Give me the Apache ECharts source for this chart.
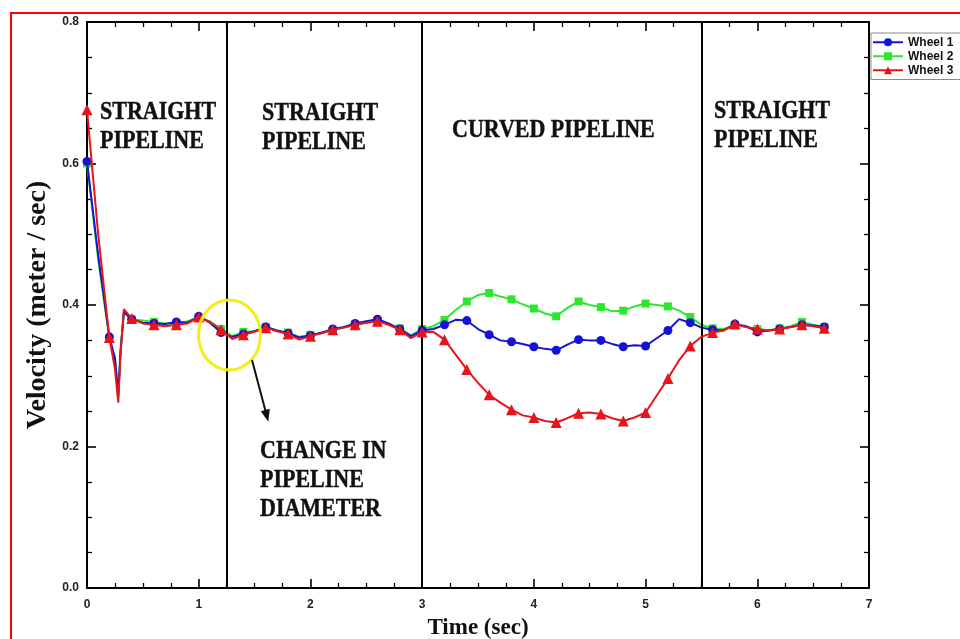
<!DOCTYPE html>
<html>
<head>
<meta charset="utf-8">
<script src="https://cdn.jsdelivr.net/npm/echarts/dist/echarts.min.js"></script>
<style>
html,body{margin:0;padding:0;background:#fff;}
#chart{width:960px;height:639px;}
</style>
</head>
<body>
<div id="chart"></div>
<script>
// ---- data ----
const time = [0, 0.1, 0.2, 0.25, 0.28, 0.3, 0.33,
  0.4, 0.5, 0.6, 0.7, 0.8, 0.9, 1.0, 1.1, 1.2, 1.3, 1.4, 1.5, 1.6, 1.7, 1.8, 1.9,
  2.0, 2.1, 2.2, 2.3, 2.4, 2.5, 2.6, 2.7, 2.8, 2.9, 3.0, 3.1, 3.2, 3.3, 3.4, 3.5,
  3.6, 3.7, 3.8, 3.9, 4.0, 4.1, 4.2, 4.3, 4.4, 4.5, 4.6, 4.7, 4.8, 4.9, 5.0, 5.1,
  5.2, 5.3, 5.4, 5.5, 5.6, 5.7, 5.8, 5.9, 6.0, 6.1, 6.2, 6.3, 6.4, 6.5, 6.6];

const wheel1 = [0.603, 0.47, 0.355, 0.325, 0.272, 0.335, 0.39,
  0.380, 0.375, 0.374, 0.373, 0.376, 0.375, 0.384, 0.375, 0.361, 0.355, 0.359, 0.363, 0.369, 0.364, 0.360, 0.354,
  0.357, 0.361, 0.366, 0.369, 0.374, 0.377, 0.380, 0.374, 0.366, 0.356, 0.364, 0.366, 0.372, 0.379, 0.378, 0.366,
  0.358, 0.350, 0.348, 0.345, 0.341, 0.338, 0.336, 0.344, 0.351, 0.350, 0.350, 0.345, 0.341, 0.343, 0.342, 0.353,
  0.364, 0.380, 0.375, 0.368, 0.365, 0.364, 0.373, 0.370, 0.362, 0.364, 0.366, 0.369, 0.372, 0.371, 0.369];

const wheel2 = [0.600, 0.465, 0.352, 0.325, 0.275, 0.335, 0.39,
  0.380, 0.378, 0.376, 0.374, 0.374, 0.377, 0.382, 0.377, 0.366, 0.356, 0.362, 0.363, 0.369, 0.364, 0.361, 0.355,
  0.358, 0.360, 0.365, 0.368, 0.372, 0.375, 0.378, 0.373, 0.367, 0.357, 0.366, 0.370, 0.379, 0.393, 0.405, 0.414,
  0.417, 0.412, 0.408, 0.401, 0.395, 0.388, 0.384, 0.396, 0.405, 0.400, 0.397, 0.391, 0.392, 0.398, 0.402, 0.400,
  0.398, 0.392, 0.383, 0.372, 0.367, 0.366, 0.372, 0.369, 0.366, 0.364, 0.367, 0.370, 0.376, 0.372, 0.369];

const wheel3 = [0.676, 0.50, 0.354, 0.31, 0.262, 0.33, 0.394,
  0.381, 0.374, 0.372, 0.370, 0.372, 0.374, 0.383, 0.376, 0.365, 0.352, 0.358, 0.362, 0.368, 0.363, 0.359, 0.351,
  0.356, 0.360, 0.365, 0.368, 0.372, 0.375, 0.377, 0.372, 0.365, 0.353, 0.362, 0.362, 0.351, 0.330, 0.309, 0.290,
  0.273, 0.262, 0.252, 0.244, 0.241, 0.236, 0.234, 0.240, 0.247, 0.248, 0.246, 0.240, 0.236, 0.241, 0.248, 0.272,
  0.296, 0.322, 0.342, 0.355, 0.361, 0.364, 0.373, 0.369, 0.366, 0.364, 0.366, 0.369, 0.372, 0.370, 0.367];

const seriesNames = ['Wheel 1', 'Wheel 2', 'Wheel 3'];
const sectionBounds = [1.25, 3, 5.5];
const xTicks = [0, 7, 1];      // min, max, interval
const yTicks = [0, 0.8, 0.2];  // min, max, interval
const sectionLabels = ['STRAIGHT\nPIPELINE', 'STRAIGHT\nPIPELINE', 'CURVED PIPELINE', 'STRAIGHT\nPIPELINE'];
const noteLabel = 'CHANGE IN\nPIPELINE\nDIAMETER';

// ---- chart ----
const SANS = '"Liberation Sans", Arial, sans-serif';
const SERIF = '"Liberation Serif", "Times New Roman", serif';
const colors = ['#1414d2', '#2ee62e', '#e8141c'];
const symbols = ['circle', 'rect', 'triangle'];
const symSizes = [9, 8, 11];
const zOrder = [4, 3, 5];

function isMarker(t) { return Math.abs(t * 5 - Math.round(t * 5)) < 1e-6; }
function pairs(vals) { return time.map((t, i) => [t, vals[i]]); }

const chart = echarts.init(document.getElementById('chart'), null, {renderer: 'canvas'});

const axisLineStyle = {color: '#000', width: 2};
function xAxisCfg(pos, showLabel) {
  return {
    type: 'value', position: pos, min: xTicks[0], max: xTicks[1], interval: xTicks[2],
    axisLine: {show: true, onZero: false, lineStyle: axisLineStyle},
    axisTick: {show: true, inside: true, length: 9, lineStyle: {color: '#000', width: 1.6}},
    minorTick: {show: true, splitNumber: 4, length: 5, lineStyle: {color: '#000', width: 1.3}},
    splitLine: {show: false},
    axisLabel: {show: showLabel, margin: 11, color: '#222', fontFamily: SANS, fontWeight: 'bold', fontSize: 12},
  };
}
function yAxisCfg(pos, showLabel) {
  return {
    type: 'value', position: pos, min: yTicks[0], max: yTicks[1], interval: yTicks[2],
    axisLine: {show: true, onZero: false, lineStyle: axisLineStyle},
    axisTick: {show: true, inside: true, length: 9, lineStyle: {color: '#000', width: 1.6}},
    minorTick: {show: true, splitNumber: 4, length: 5, lineStyle: {color: '#000', width: 1.3}},
    splitLine: {show: false},
    axisLabel: {show: showLabel, margin: 8, color: '#222', fontFamily: SANS, fontWeight: 'bold', fontSize: 12,
      formatter: v => v.toFixed(1)},
  };
}

const xBottom = Object.assign(xAxisCfg('bottom', true), {
  name: 'Time (sec)', nameLocation: 'middle', nameGap: 29,
  nameTextStyle: {fontFamily: SERIF, fontWeight: 'bold', fontSize: 23, color: '#111'}
});
const yLeft = Object.assign(yAxisCfg('left', true), {
  name: 'Velocity (meter / sec)', nameLocation: 'middle', nameGap: 33,
  nameTextStyle: {fontFamily: SERIF, fontWeight: 'bold', fontSize: 28, color: '#111'}
});

const series = [wheel1, wheel2, wheel3].map((vals, k) => ({
  name: seriesNames[k],
  type: 'line',
  data: pairs(vals),
  showAllSymbol: true,
  symbol: symbols[k],
  symbolSize: v => isMarker(v[0]) ? symSizes[k] : 0,
  lineStyle: {color: colors[k], width: 2},
  itemStyle: {color: colors[k]},
  emphasis: {disabled: true},
  animation: false,
  z: zOrder[k]
}));
series[0].markLine = {
  silent: true, symbol: 'none', animation: false,
  label: {show: false},
  lineStyle: {color: '#000', width: 2, type: 'solid'},
  data: sectionBounds.map(b => ({xAxis: b}))
};

const textStyleBig = {font: 'bold 22px ' + SERIF, fill: '#111', lineHeight: 25, align: 'left', verticalAlign: 'top',
  stroke: '#111', lineWidth: 0.4};
const labelPos = [[100, 98], [262, 99], [452, 116], [714, 97]];
const graphics = [
  {type: 'rect', shape: {x: 11, y: 13, width: 1000, height: 1000}, style: {stroke: '#ff0000', fill: 'none', lineWidth: 2}, z: 0, silent: true}
];
sectionLabels.forEach((t, i) => {
  graphics.push({type: 'text', x: labelPos[i][0], y: labelPos[i][1], scaleY: 1.16,
    style: Object.assign({text: t}, textStyleBig), z: 10});
});
graphics.push({type: 'text', x: 260, y: 437, scaleY: 1.16, style: Object.assign({text: noteLabel}, textStyleBig), z: 10});
graphics.push({type: 'ellipse', shape: {cx: 229.5, cy: 335, rx: 31, ry: 35},
  style: {stroke: '#f4ee14', fill: 'none', lineWidth: 3}, z: 10});
graphics.push({type: 'line', shape: {x1: 252, y1: 360, x2: 265.5, y2: 411},
  style: {stroke: '#111', lineWidth: 2}, z: 10});
graphics.push({type: 'polygon', shape: {points: [[268.3, 421.7], [269.8, 408.8], [260.8, 411.3]]},
  style: {fill: '#111'}, z: 10});

chart.setOption({
  animation: false,
  backgroundColor: '#fff',
  color: colors,
  grid: {left: 87, right: 91, top: 22, bottom: 51, containLabel: false, outerBoundsMode: 'none'},
  legend: {
    orient: 'vertical', left: 871, top: 33,
    padding: [3, 8, 3, 1],
    itemWidth: 30, itemHeight: 10, itemGap: 1.5,
    borderColor: '#8a8a8a', borderWidth: 1,
    textStyle: {fontFamily: SANS, fontWeight: 'bold', fontSize: 12, color: '#111', lineHeight: 12.5},
    data: seriesNames
  },
  xAxis: [xBottom, xAxisCfg('top', false)],
  yAxis: [yLeft, yAxisCfg('right', false)],
  series: series,
  graphic: graphics
});
</script>
</body>
</html>
